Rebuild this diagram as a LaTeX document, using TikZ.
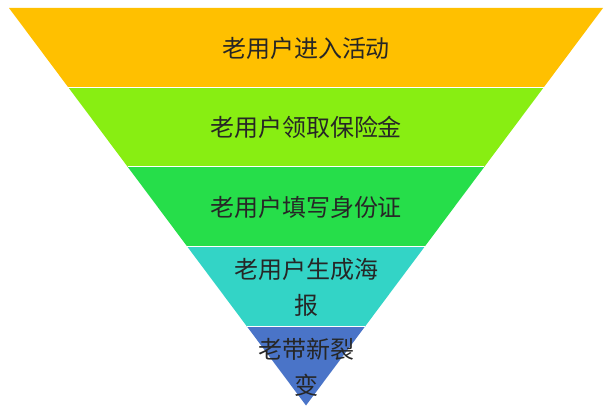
\documentclass[tikz,border=0pt]{standalone}
\usepackage{fontspec}
\newfontfamily\cjk{Noto Sans CJK SC}
\usepackage{tikz}
\definecolor{bandgold}{HTML}{FFC000}
\definecolor{bandlime}{HTML}{88EE12}
\definecolor{bandgreen}{HTML}{26DE4A}
\definecolor{bandteal}{HTML}{33D4C6}
\definecolor{bandblue}{HTML}{4A74C8}
\tikzset{
	band/.style={draw=white, line width=1pt, line join=round},
	label/.style={text=black!85, align=center, inner sep=0pt,
		font=\cjk\fontsize{24}{36}\selectfont}
}

\begin{document}
\begin{tikzpicture}[x=1pt, y=-1pt]
		%%%%% START %%%%%
		
		\useasboundingbox[fill=white] (0, 0) rectangle (614, 417);
		
		\fill[bandgold] (9, 8) -- (603, 8) -- (543.6, 87.5) -- (68.4, 87.5) -- cycle;
		\fill[bandlime] (68.4, 87.5) -- (543.6, 87.5) -- (484.2, 167) -- (127.8, 167) -- cycle;
		\fill[bandgreen] (127.8, 167) -- (484.2, 167) -- (424.8, 246.5) -- (187.2, 246.5) -- cycle;
		\fill[bandteal] (187.2, 246.5) -- (424.8, 246.5) -- (365.4, 326) -- (246.6, 326) -- cycle;
		\fill[bandblue] (246.6, 326) -- (365.4, 326) -- (306, 405.5) -- cycle;
		
		\draw[band] (68.4, 87.5) -- (543.6, 87.5);
		\draw[band] (127.8, 167) -- (484.2, 167);
		\draw[band] (187.2, 246.5) -- (424.8, 246.5);
		\draw[band] (246.6, 326) -- (365.4, 326);
		
		\node[label] (join) at (306, 48) {老用户进入活动};
		\node[label] (claim) at (306, 127) {老用户领取保险金};
		\node[label] (idcard) at (306, 207) {老用户填写身份证};
		\node[label] (poster) at (306, 287) {老用户生成海\\报};
		\node[label] (invite) at (306, 367.5) {老带新裂\\变};
		
		%%%%% END %%%%%
\end{tikzpicture}
\end{document}
